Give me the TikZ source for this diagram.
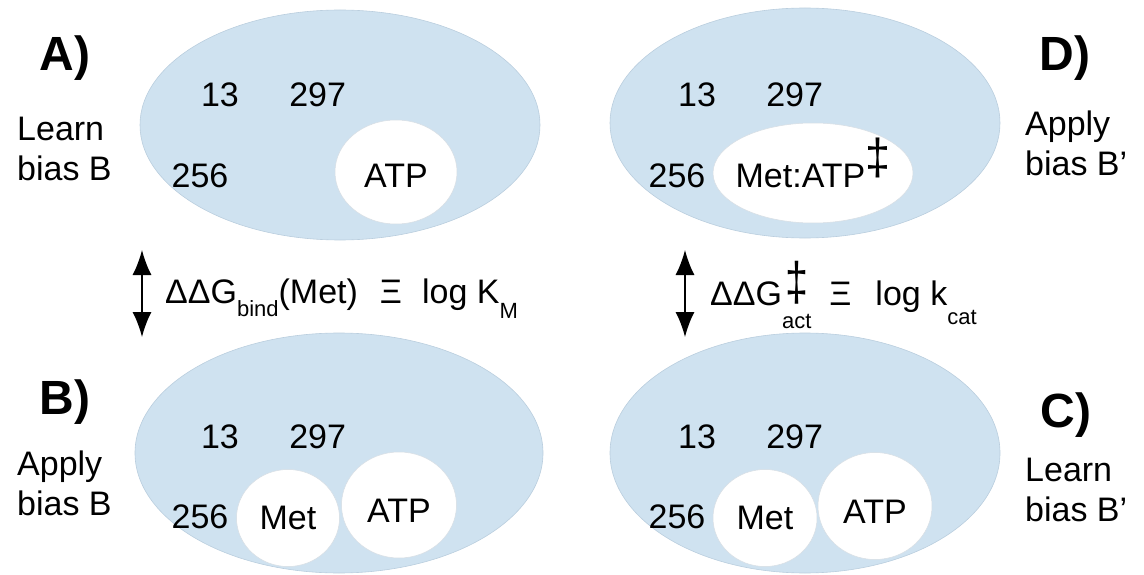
\documentclass[tikz,border=0pt]{standalone}
\usepackage{fontspec}
\setmainfont{Liberation Sans}
\usepackage{graphicx}
\usepackage{tikz}
\usetikzlibrary{arrows.meta, shapes.geometric, positioning}

\definecolor{pocket}{RGB}{207,226,240}
\definecolor{pocketrim}{RGB}{186,206,222}
\definecolor{ligrim}{RGB}{215,222,228}

\newcommand{\low}[2]{\raisebox{-#1}{\fontsize{22}{24}\selectfont #2}}
\newcommand{\tallmark}[2]{\resizebox{#1}{#2}{\raisebox{\depth}{‡}}}
\newcommand{\tsdag}{\smash{\raisebox{10pt}{\tallmark{25pt}{40pt}}}}
\newcommand{\dgact}{\makebox[0pt][l]{\hspace{3pt}\smash{\raisebox{1pt}{\tallmark{23pt}{43pt}}}}\low{23pt}{act}}

\begin{document}
\begin{tikzpicture}[x=1pt, y=-1pt,
    site/.style={ellipse, fill=pocket, draw=pocketrim, line width=0.6pt, inner sep=0pt},
    lig/.style={ellipse, fill=white, draw=ligrim, line width=0.5pt, inner sep=0pt, font=\fontsize{34}{40}\selectfont},
    res/.style={inner sep=0pt, font=\fontsize{34}{40}\selectfont},
    panel/.style={inner sep=0pt, font=\fontsize{48}{56}\selectfont\bfseries},
    note/.style={inner sep=0pt, align=left, anchor=west, font=\fontsize{34}{40}\selectfont},
    swap/.style={{Latex[length=25pt,width=19pt]}-{Latex[length=25pt,width=19pt]}, line width=1.4pt}]
    \useasboundingbox (0,0) rectangle (1144,575);

    % pockets
    \node[site, minimum width=400pt, minimum height=230pt] (pocketA) at (340,125) {};
    \node[site, minimum width=390pt, minimum height=230pt] (pocketD) at (805,123) {};
    \node[site, minimum width=408pt, minimum height=240pt] (pocketB) at (339,453) {};
    \node[site, minimum width=390pt, minimum height=240pt] (pocketC) at (805,453) {};

    % A) learn bias B
    \node[panel] (labA) at (65,58) {A)};
    \node[note] (noteA) at (17,149) {Learn\\bias B};
    \node[res] (r13A) at (220,95) {13};
    \node[res] (r297A) [right=50pt of r13A] {297};
    \node[res] (r256A) at (200,176) {256};
    \node[lig, minimum width=122pt, minimum height=104pt, text height=32pt] (atpA) at (396,172) {ATP};

    % D) apply bias B'
    \node[panel] (labD) at (1065,58) {D)};
    \node[note] (noteD) at (1025,143) {Apply\\bias B’};
    \node[res] (r13D) at (697,95) {13};
    \node[res] (r297D) [right=50pt of r13D] {297};
    \node[res] (r256D) at (677,176) {256};
    \node[lig, minimum width=200pt, minimum height=100pt, text height=30pt] (cplxD) at (813,173) {\makebox[0pt]{Met:ATP\tsdag}};

    % B) apply bias B
    \node[panel] (labB) at (65,402) {B)};
    \node[note] (noteB) at (17,483) {Apply\\bias B};
    \node[res] (r13B) at (220,437) {13};
    \node[res] (r297B) [right=50pt of r13B] {297};
    \node[res] (r256B) at (200,517) {256};
    \node[lig, minimum width=103pt, minimum height=97pt] (metB) at (288,518) {Met};
    \node[lig, minimum width=115pt, minimum height=106pt, text height=34pt] (atpB) at (399,505) {ATP};

    % C) learn bias B'
    \node[panel] (labC) at (1066,415) {C)};
    \node[note] (noteC) at (1025,490) {Learn\\bias B’};
    \node[res] (r13C) at (697,437) {13};
    \node[res] (r297C) [right=50pt of r13C] {297};
    \node[res] (r256C) at (677,517) {256};
    \node[lig, minimum width=104pt, minimum height=97pt] (metC) at (765,518) {Met};
    \node[lig, minimum width=114pt, minimum height=107pt, text height=34pt] (atpC) at (875,506) {ATP};

    % free energy relations
    \node[res, anchor=base west] (ddgBind) at (165,303) {ΔΔG\low{13pt}{bind}(Met)\hspace{22pt}Ξ\hspace{20pt}log K\low{15pt}{M}};
    \node[res, anchor=base west] (ddgAct) at (710,305) {ΔΔG\dgact\hspace{18pt}Ξ\hspace{24pt}log k\low{19pt}{cat}};

    \coordinate (endAB) at (142,250);
    \coordinate (endBA) at (142,337);
    \coordinate (endDC) at (685,250);
    \coordinate (endCD) at (685,337);
    \draw[swap] (endAB) -- (endBA);
    \draw[swap] (endDC) -- (endCD);
\end{tikzpicture}
\end{document}
